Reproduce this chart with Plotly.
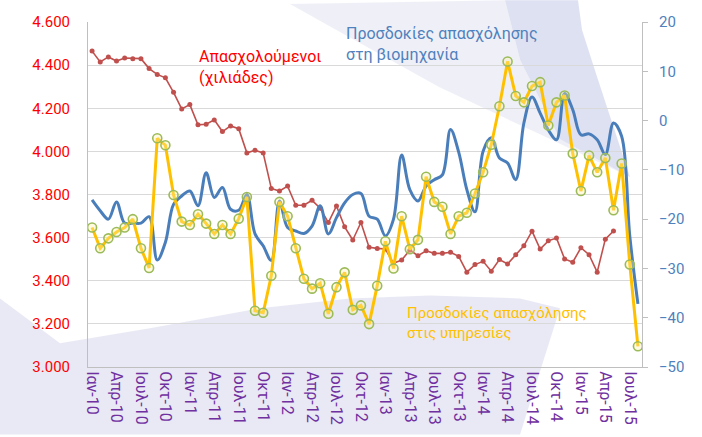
import plotly.graph_objects as go

# ---------------- data ----------------
month_names = ["Ιαν", "Φεβ", "Μαρ", "Απρ", "Μαϊ", "Ιουν", "Ιουλ", "Αυγ", "Σεπ", "Οκτ", "Νοε", "Δεκ"]
years = ["10", "11", "12", "13", "14", "15"]
categories = [f"{m}-{y}" for y in years for m in month_names][:68]   # Ιαν-10 ... Αυγ-15

employed_thousands = [
    4465, 4415, 4438, 4419, 4433, 4430, 4430, 4384, 4357, 4341, 4274, 4197,
    4217, 4123, 4126, 4146, 4092, 4118, 4105, 3993, 4005, 3993, 3828, 3816,
    3839, 3750, 3750, 3773, 3736, 3670, 3747, 3650, 3589, 3670, 3555, 3550,
    3547, 3481, 3496, 3542, 3516, 3539, 3527, 3527, 3532, 3513, 3440, 3475,
    3490, 3444, 3498, 3478, 3521, 3562, 3630, 3547, 3585, 3598, 3501, 3486,
    3553, 3521, 3440, 3593, 3631,
]

industry_expectations = [
    -16.1, -18.3, -20.0, -16.5, -20.8, -20.8, -20.8, -19.5, -28.3, -24.7, -17.0, -15.3,
    -14.3, -17.3, -10.6, -15.6, -13.6, -18.0, -18.2, -15.0, -23.0, -25.4, -28.4, -16.3,
    -21.7, -22.4, -22.9, -21.4, -17.3, -23.0, -19.7, -16.7, -15.0, -14.8, -19.4, -20.0,
    -23.4, -20.0, -7.0, -14.0, -16.3, -13.3, -12.0, -11.0, -1.8, -6.4, -14.0, -18.5,
    -6.2, -3.5, -7.6, -8.6, -12.0, -0.5, 4.8, 1.5, -1.9, -3.9, 5.5, 2.2,
    -2.9, -2.7, -3.9, -6.9, -0.5, -3.2, -23.4, -37.2,
]

services_expectations = [
    -21.7, -25.9, -23.9, -22.6, -21.7, -20.0, -25.9, -29.9, -3.6, -5.0, -15.1, -20.5,
    -21.2, -19.0, -20.9, -23.0, -21.2, -23.0, -19.9, -15.5, -38.6, -39.0, -31.5, -16.5,
    -19.4, -25.9, -32.1, -34.1, -33.0, -39.2, -33.8, -30.8, -38.4, -37.5, -41.3, -33.5,
    -24.5, -30.0, -19.4, -26.1, -24.2, -11.4, -16.5, -17.5, -23.0, -19.4, -18.7, -14.8,
    -10.5, -4.9, 2.9, 12.0, 5.0, 3.7, 7.0, 7.8, -1.0, 3.7, 5.1, -6.7,
    -14.3, -7.1, -10.5, -7.6, -18.2, -8.7, -29.2, -45.8,
]

tick_labels = categories[0::3]   # Ιαν-10, Απρ-10, ... Ιουλ-15

label_employed = "Απασχολούμενοι<br>(χιλιάδες)"
label_industry = "Προσδοκίες απασχόλησης<br>στη βιομηχανία"
label_services = "Προσδοκίες απασχόλησης<br>στις υπηρεσίες"

# ---------------- styling ----------------
W, H = 702, 437
ML, MR, MT, MB = 88, 60, 22, 68
PW, PH = W - ML - MR, H - MT - MB
FONT = "Roboto"

RED_LINE = "#C0504D"
BLUE_LINE = "#4A7EBB"
YELLOW_LINE = "#FFC000"
RING = "#9BBB59"


def px(x):
    return (x - ML) / PW


def py(y):
    return (H - MB - y) / PH


fig = go.Figure()

fig.add_trace(go.Scatter(
    x=categories[:len(employed_thousands)], y=employed_thousands,
    mode="lines+markers", line=dict(color=RED_LINE, width=1.6),
    marker=dict(color=RED_LINE, size=5), yaxis="y", showlegend=False,
    hoverinfo="skip"))

fig.add_trace(go.Scatter(
    x=categories, y=industry_expectations, mode="lines",
    line=dict(color=BLUE_LINE, width=3, shape="spline", smoothing=1.0),
    yaxis="y2", showlegend=False, hoverinfo="skip"))

fig.add_trace(go.Scatter(
    x=categories, y=services_expectations, mode="lines+markers",
    line=dict(color=YELLOW_LINE, width=3),
    marker=dict(symbol="circle", size=9, color="rgba(255,240,170,0.35)",
                line=dict(color=RING, width=1.6)),
    yaxis="y2", showlegend=False, hoverinfo="skip"))


# faint background watermark
def poly(points):
    return "M " + " L ".join(f"{px(x):.4f},{py(y):.4f}" for x, y in points) + " Z"


shapes = [
    dict(type="path", xref="paper", yref="paper", layer="below",
         path=poly([(0, 300), (60, 345), (150, 330), (260, 310), (350, 300), (430, 297),
                    (520, 300), (560, 310), (520, 437), (0, 437)]),
         fillcolor="rgba(224,226,240,0.75)", line=dict(width=0)),
    dict(type="path", xref="paper", yref="paper", layer="below",
         path=poly([(290, 4), (505, 0), (520, 60), (560, 140), (630, 178), (540, 135),
                    (440, 88), (340, 32)]),
         fillcolor="rgba(232,234,244,0.7)", line=dict(width=0)),
    dict(type="path", xref="paper", yref="paper", layer="below",
         path=poly([(505, 0), (578, 0), (582, 30), (598, 80), (630, 178), (560, 140), (520, 60)]),
         fillcolor="rgba(214,217,238,0.8)", line=dict(width=0)),
]

annotations = [
    dict(text=label_employed, xref="paper", yref="paper", x=px(197), y=py(45),
         xanchor="left", yanchor="top", align="left", showarrow=False,
         font=dict(family=FONT, size=16, color="#FF0000")),
    dict(text=label_industry, xref="paper", yref="paper", x=px(344), y=py(22),
         xanchor="left", yanchor="top", align="left", showarrow=False,
         font=dict(family=FONT, size=16, color="#4F81BD")),
    dict(text=label_services, xref="paper", yref="paper", x=px(405), y=py(304),
         xanchor="left", yanchor="top", align="left", showarrow=False,
         font=dict(family=FONT, size=15, color=YELLOW_LINE)),
]

fig.update_layout(
    width=W, height=H,
    margin=dict(l=ML, r=MR, t=MT, b=MB),
    paper_bgcolor="white", plot_bgcolor="rgba(0,0,0,0)",
    separators=",.",
    font=dict(family=FONT),
    shapes=shapes,
    annotations=annotations,
    xaxis=dict(
        type="category", categoryorder="array", categoryarray=categories,
        range=[-0.5, len(categories) - 0.5],
        tickmode="array", tickvals=tick_labels, ticktext=tick_labels,
        tickangle=90, tickfont=dict(family=FONT, size=16, color="#7030A0"),
        showgrid=False, showline=True, linecolor="#BFBFBF", linewidth=1,
        ticks="", zeroline=False, fixedrange=True),
    yaxis=dict(
        range=[3000, 4600], tickmode="linear", tick0=3000, dtick=200,
        tickformat=",.0f", tickfont=dict(family=FONT, size=15, color="#FF0000"),
        showgrid=True, gridcolor="#D9D9D9", gridwidth=1,
        showline=True, linecolor="#BFBFBF", ticks="", ticklabelstandoff=14,
        zeroline=False),
    yaxis2=dict(
        overlaying="y", side="right", range=[-50, 20], tickmode="linear",
        tick0=-50, dtick=10, tickfont=dict(family=FONT, size=15, color="#4F81BD"),
        showgrid=False, showline=True, linecolor="#BFBFBF", ticks="outside",
        ticklen=5, tickcolor="#BFBFBF", ticklabelstandoff=8, zeroline=False),
)

fig.write_html(
    "out.html",
    config={"displayModeBar": False, "staticPlot": True},
    post_script="document.body.style.margin='0';document.body.style.overflow='hidden';",
)
